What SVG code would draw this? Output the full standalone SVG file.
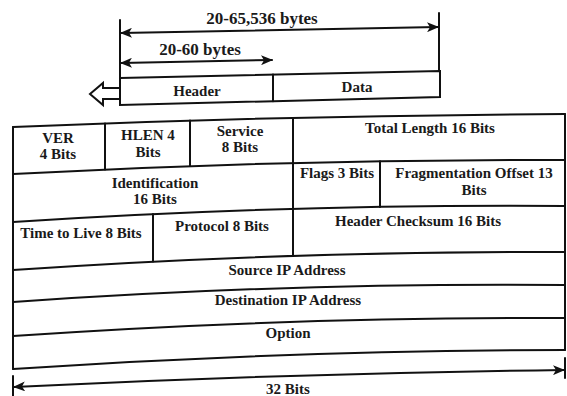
<svg xmlns="http://www.w3.org/2000/svg" width="567" height="396" viewBox="0 0 567 396">
<style>
.ln{fill:none;stroke:#111;stroke-width:2;stroke-linecap:round}
.t{font-family:"Liberation Serif","Times New Roman",serif;font-size:15px;font-weight:bold;fill:#1a1a1a;text-anchor:middle}
.tl{font-size:17px}
</style>
<defs>
<marker id="ah" viewBox="0 0 12 10" refX="11" refY="5" markerWidth="12" markerHeight="10" markerUnits="userSpaceOnUse" orient="auto-start-reverse">
<path d="M0,0 L12,5 L0,10 L3,5 z" fill="#111"/>
</marker>
</defs>
<rect width="567" height="396" fill="#fff"/>

<g id="datagram">
<polygon class="ln" points="120,78 440,71 440,97 120,105"/>
<line class="ln" x1="273" y1="74.6" x2="273" y2="101.3"/>
<text class="t" x="197" y="96">Header</text>
<text class="t" x="357" y="92">Data</text>
<polygon class="ln" points="90,94 103,83 103,88 120,88 120,99 103,99 103,105"/>
</g>

<g id="connectors">
<line class="ln" x1="120" y1="20" x2="120" y2="78"/>
<line class="ln" x1="439" y1="13" x2="439" y2="71"/>
<line class="ln" x1="121" y1="33" x2="438" y2="27" marker-start="url(#ah)" marker-end="url(#ah)"/>
<line class="ln" x1="121" y1="63" x2="272" y2="60" marker-start="url(#ah)" marker-end="url(#ah)"/>
<line class="ln" x1="13" y1="376" x2="13" y2="396"/>
<line class="ln" x1="565" y1="358" x2="565" y2="378"/>
<path class="ln" d="M14,387 Q289,373.5 564,370" marker-start="url(#ah)" marker-end="url(#ah)"/>
<text class="t tl" x="262" y="24">20-65,536 bytes</text>
<text class="t tl" x="200" y="55">20-60 bytes</text>
<text class="t" x="288" y="394">32 Bits</text>
</g>

<g id="grid">
<path class="ln" d="M13,127 Q289,115.5 565,114"/>
<path class="ln" d="M13,174 Q289,159 565,160"/>
<path class="ln" d="M13,222 Q289,204 565,206"/>
<path class="ln" d="M13,270 Q289,251 565,252"/>
<path class="ln" d="M13,302 Q289,282.5 565,285"/>
<path class="ln" d="M13,336 Q289,317 565,318"/>
<path class="ln" d="M13,369 Q289,350.5 565,350"/>
<line class="ln" x1="13" y1="127" x2="13" y2="369"/>
<line class="ln" x1="565" y1="114" x2="565" y2="350"/>
<line class="ln" x1="105" y1="123.4" x2="105" y2="169.4"/>
<line class="ln" x1="190" y1="120.6" x2="190" y2="166"/>
<line class="ln" x1="293" y1="117.9" x2="293" y2="255.9"/>
<line class="ln" x1="380" y1="161.2" x2="380" y2="206.9"/>
<line class="ln" x1="153" y1="214.1" x2="153" y2="261.6"/>
</g>

<g id="ver"><text class="t" x="58" y="143">VER</text><text class="t" x="58" y="159">4 Bits</text></g>
<g id="hlen"><text class="t" x="148" y="140">HLEN 4</text><text class="t" x="148" y="157">Bits</text></g>
<g id="service"><text class="t" x="240" y="136">Service</text><text class="t" x="240" y="152">8 Bits</text></g>
<g id="total-length"><text class="t" x="430" y="133">Total Length 16 Bits</text></g>
<g id="identification"><text class="t" x="155" y="188">Identification</text><text class="t" x="155" y="204">16 Bits</text></g>
<g id="flags"><text class="t" x="337" y="178">Flags 3 Bits</text></g>
<g id="fragmentation"><text class="t" x="474" y="178">Fragmentation Offset 13</text><text class="t" x="474" y="195">Bits</text></g>
<g id="ttl"><text class="t" x="81" y="238">Time to Live 8 Bits</text></g>
<g id="protocol"><text class="t" x="222" y="231">Protocol 8 Bits</text></g>
<g id="checksum"><text class="t" x="418" y="226">Header Checksum 16 Bits</text></g>
<g id="source"><text class="t" x="287" y="275">Source IP Address</text></g>
<g id="destination"><text class="t" x="288" y="305">Destination IP Address</text></g>
<g id="option"><text class="t" x="288" y="338">Option</text></g>
</svg>
